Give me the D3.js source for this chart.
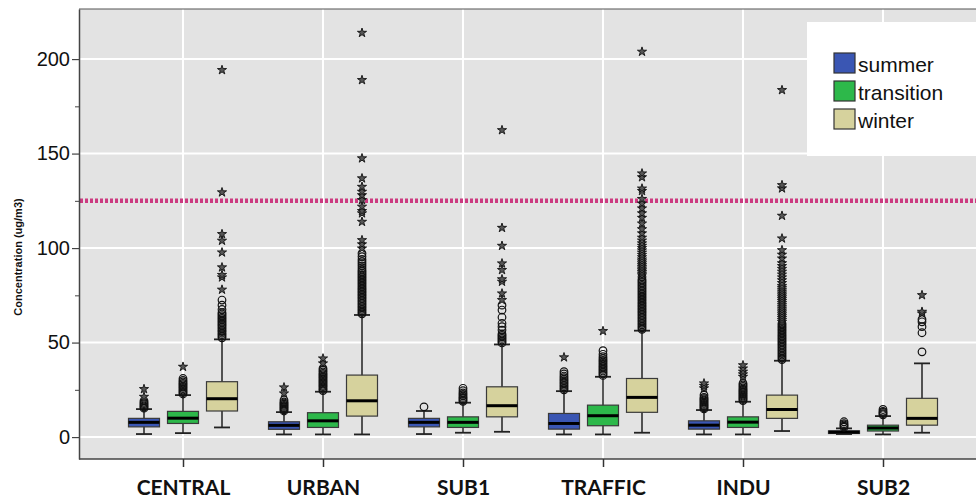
<!DOCTYPE html>
<html>
<head>
<meta charset="utf-8">
<script src="https://cdn.jsdelivr.net/npm/d3@7"></script>
<style>
  html, body { margin: 0; padding: 0; background: #fff; }
  svg { display: block; }
</style>
</head>
<body>
<svg id="chart" width="976" height="501"></svg>
<script>
// Site categories and seasons
const categories = ["CENTRAL", "URBAN", "SUB1", "TRAFFIC", "INDU", "SUB2"];
const seasons = ["summer", "transition", "winter"];
const seasonColors = ["#3a56b3", "#2db84a", "#d6d29d"];

// Box summaries per site: [lower whisker, Q1, median, Q3, upper whisker]
const summerBox = [
  [1.6, 5.4, 7.8, 9.9, 14.8],
  [1.4, 4.1, 6.2, 8.1, 13.2],
  [1.6, 5.4, 7.8, 9.9, 13.8],
  [1.4, 4.2, 7.2, 12.5, 24.3],
  [1.4, 4.2, 6.3, 8.6, 14.3],
  [1.6, 1.9, 2.6, 3.3, 4.6]
];
const transitionBox = [
  [2.1, 7.2, 10.0, 13.6, 22.2],
  [1.4, 5.1, 8.6, 12.9, 24.0],
  [2.3, 5.1, 7.8, 10.7, 18.2],
  [1.4, 6.0, 11.3, 16.9, 31.9],
  [1.4, 5.1, 7.9, 10.7, 18.7],
  [1.4, 3.2, 4.8, 6.3, 11.1]
];
const winterBox = [
  [5.1, 13.8, 20.3, 29.3, 51.7],
  [1.4, 11.1, 19.2, 32.8, 64.6],
  [2.8, 10.7, 16.6, 26.6, 49.0],
  [2.3, 13.1, 21.0, 31.0, 56.3],
  [3.2, 9.9, 14.6, 22.2, 40.4],
  [2.3, 6.3, 9.9, 20.5, 39.0]
];

// Outliers (open circles) per site
const summerOutliers = [
  [15.3, 15.9, 16.5, 17.1, 17.7, 18.4, 19.2],
  [13.8, 14.4, 15.0, 15.6, 16.2, 16.8, 17.4, 18.0, 18.6, 19.6],
  [16.0],
  [25.0, 25.8, 26.6, 27.4, 28.2, 29.0, 29.8, 30.6, 31.4, 32.3, 33.4, 34.6],
  [14.9, 15.5, 16.1, 16.7, 17.3, 17.9, 18.5, 19.1, 19.7, 20.3, 21.0, 22.2],
  [5.2, 5.8, 6.4, 7.1, 8.1]
];
const transitionOutliers = [
  [22.8, 23.5, 24.2, 24.9, 25.6, 26.3, 27.0, 27.7, 28.4, 29.2, 30.0, 31.0],
  [24.6, 25.3, 26.0, 26.7, 27.4, 28.1, 28.8, 29.5, 30.2, 30.9, 31.6, 32.3, 33.0, 33.7, 34.5, 35.4, 36.3],
  [18.9, 19.6, 20.3, 21.0, 21.8, 22.6, 23.4, 24.5, 25.8],
  [32.6, 33.4, 34.2, 35.0, 35.8, 36.6, 37.4, 38.2, 39.0, 39.8, 40.6, 41.5, 42.5, 43.8, 45.7],
  [19.3, 19.9, 20.5, 21.1, 21.7, 22.3, 22.9, 23.5, 24.1, 24.7, 25.3, 26.0, 26.8, 27.6, 28.4],
  [11.8, 12.4, 13.0, 13.6, 14.6]
];
const winterOutliers = [
  [52.5, 53.4, 54.2, 55.0, 55.8, 56.5, 57.3, 58.1, 58.9, 59.6, 60.4, 61.2, 62.0, 62.8, 63.5, 64.3, 65.1, 65.8, 67.5, 69.8, 72.5],
  [65.2, 66.0, 66.8, 67.6, 68.4, 69.2, 70.0, 70.8, 71.6, 72.4, 73.2, 74.0, 74.8, 75.6, 76.4, 77.2, 78.0, 78.8, 79.6,
   80.4, 81.2, 82.0, 82.8, 83.6, 84.4, 85.2, 86.0, 86.8, 87.6, 88.4, 89.5, 90.6, 91.7, 92.8, 94.0, 95.5, 97.2],
  [49.8, 50.6, 51.4, 52.2, 53.0, 53.8, 54.6, 56.6, 58.4, 60.2, 63.4, 67.2, 69.8],
  [57.0, 57.8, 58.6, 59.4, 60.2, 61.0, 61.8, 62.6, 63.4, 64.2, 65.0, 65.8, 66.6, 67.4, 68.2, 69.0, 69.8, 70.6, 71.4,
   72.2, 73.0, 73.8, 74.6, 75.4, 76.2, 77.0, 77.8, 78.6, 79.4, 80.2, 81.0, 81.8, 82.6, 83.4, 84.8],
  [41.0, 41.8, 42.6, 43.4, 44.2, 45.0, 45.8, 46.6, 47.4, 48.2, 49.0, 49.8, 50.6, 51.4, 52.2, 53.0, 53.8, 54.6, 55.4,
   56.2, 57.0, 57.8, 58.6, 59.4, 60.2],
  [45.1, 55.2, 58.4, 61.0, 62.3]
];

// Extreme values (stars) per site
const summerExtremes = [
  [21.3, 25.4],
  [23.1, 26.3],
  [],
  [42.2],
  [25.8, 27.1, 28.4],
  []
];
const transitionExtremes = [
  [37.2],
  [39.0, 41.6],
  [],
  [56.1],
  [31.9, 33.2, 34.6, 36.3, 38.0],
  []
];
const winterExtremes = [
  [78.0, 84.5, 85.8, 89.8, 97.7, 103.9, 107.4, 129.5, 194.2],
  [99.8, 102.0, 104.2, 113.9, 118.4, 119.6, 121.9, 125.4, 128.0, 129.8, 132.4, 136.9, 147.5, 188.9, 213.9],
  [72.5, 76.0, 82.2, 83.5, 88.4, 91.9, 101.2, 110.7, 162.4],
  [85.6, 86.5, 87.4, 88.3, 89.2, 90.1, 91.0, 92.0, 93.0, 94.0, 95.2, 96.4, 97.6, 98.8, 100.0, 101.2, 102.5, 104.0,
   105.5, 107.8, 110.0, 113.0, 116.0, 118.4, 121.0, 123.6, 126.0, 130.2, 131.5, 137.5, 139.5, 203.9],
  [61.0, 62.0, 63.0, 64.0, 65.0, 66.0, 67.0, 68.0, 69.0, 70.0, 71.0, 72.0, 73.0, 74.0, 75.0, 76.0, 77.0, 78.0, 79.0,
   80.0, 81.5, 83.0, 84.5, 86.0, 87.5, 89.0, 90.5, 92.0, 94.5, 96.5, 98.9, 105.1, 117.1, 131.6, 133.3, 183.6],
  [65.4, 66.3, 75.1]
];

// Axis ticks and the limit line
const yTicks = [0, 50, 100, 150, 200];
const yMinorTicks = [25, 75, 125, 175];
const limitValue = [125];
const yTitle = "Concentration (ug/m3)";

const boxes = [summerBox, transitionBox, winterBox];
const outliers = [summerOutliers, transitionOutliers, winterOutliers];
const extremes = [summerExtremes, transitionExtremes, winterExtremes];

const width = 976, height = 501;
const frame = { left: 79, top: 9, bottom: 459, right: 976 };

const svg = d3.select("#chart");

const y = d3.scaleLinear().domain([-11.6, 226.5]).range([frame.bottom, frame.top]);
const x = d3.scalePoint().domain(categories).range([183, 883]);
const xs = d3.scalePoint().domain(seasons).range([-39, 39]);
const boxW = 31, capW = 16;

// plot background
svg.append("rect")
  .attr("x", frame.left).attr("y", frame.top)
  .attr("width", frame.right - frame.left).attr("height", frame.bottom - frame.top)
  .attr("fill", "#e3e3e3");

// grid
const grid = svg.append("g");
grid.selectAll("line.h").data(yTicks).join("line")
  .attr("x1", frame.left).attr("x2", frame.right)
  .attr("y1", d => y(d)).attr("y2", d => y(d))
  .attr("stroke", "#fff").attr("stroke-width", 2);
grid.selectAll("line.v").data(categories).join("line")
  .attr("x1", d => x(d)).attr("x2", d => x(d))
  .attr("y1", frame.top).attr("y2", frame.bottom)
  .attr("stroke", "#fff").attr("stroke-width", 2);

// limit line
svg.selectAll("line.limit").data(limitValue).join("line")
  .attr("x1", frame.left + 1).attr("x2", frame.right)
  .attr("y1", d => y(d)).attr("y2", d => y(d))
  .attr("stroke", "#cc3a80").attr("stroke-width", 4.5)
  .attr("stroke-dasharray", "3,2");

// boxes
const starPath = d3.symbol(d3.symbolStar, 26)();
seasons.forEach((s, si) => {
  const g = svg.append("g").attr("class", "season-" + s);
  categories.forEach((c, ci) => {
    const [lo, q1, med, q3, hi] = boxes[si][ci];
    const cx = x(c) + xs(s);
    const cg = g.append("g");
    // whisker stem
    cg.append("line").attr("x1", cx).attr("x2", cx).attr("y1", y(lo)).attr("y2", y(hi))
      .attr("stroke", "#222").attr("stroke-width", 1.5);
    // caps
    [lo, hi].forEach(v => {
      cg.append("line").attr("x1", cx - capW / 2).attr("x2", cx + capW / 2)
        .attr("y1", y(v)).attr("y2", y(v))
        .attr("stroke", "#222").attr("stroke-width", 1.8);
    });
    // box body
    cg.append("rect")
      .attr("x", cx - boxW / 2).attr("y", y(q3))
      .attr("width", boxW).attr("height", Math.max(1, y(q1) - y(q3)))
      .attr("fill", seasonColors[si]).attr("stroke", "#3a3a3a").attr("stroke-width", 1.2);
    // median
    cg.append("line").attr("x1", cx - boxW / 2).attr("x2", cx + boxW / 2)
      .attr("y1", y(med)).attr("y2", y(med))
      .attr("stroke", "#000").attr("stroke-width", 3);
    // outliers
    cg.selectAll("circle").data(outliers[si][ci]).join("circle")
      .attr("cx", cx).attr("cy", d => y(d)).attr("r", 3.8)
      .attr("fill", "none").attr("stroke", "#111").attr("stroke-width", 1.2);
    // extremes
    cg.selectAll("path.star").data(extremes[si][ci]).join("path")
      .attr("class", "star")
      .attr("d", starPath)
      .attr("transform", d => `translate(${cx},${y(d)})`)
      .attr("fill", "#555").attr("stroke", "#111").attr("stroke-width", 0.9);
  });
});

// frame lines
svg.append("line").attr("x1", frame.left).attr("x2", frame.right)
  .attr("y1", frame.top).attr("y2", frame.top)
  .attr("stroke", "#555").attr("stroke-width", 1.2);
svg.append("line").attr("x1", frame.left).attr("x2", frame.right)
  .attr("y1", frame.bottom).attr("y2", frame.bottom)
  .attr("stroke", "#444").attr("stroke-width", 1.5);

// y axis
const yAxis = svg.append("g").attr("transform", `translate(${frame.left},0)`)
  .call(d3.axisLeft(y).tickValues(yTicks).tickSize(7).tickSizeOuter(0).tickPadding(2));
yAxis.select(".domain").attr("stroke", "#444").attr("stroke-width", 1.5);
yAxis.selectAll(".tick line").attr("stroke", "#444").attr("stroke-width", 1.2);
yAxis.selectAll(".tick text")
  .attr("font-family", "'Liberation Sans', Arial, sans-serif")
  .attr("font-size", 20).attr("fill", "#111");
const yMinor = svg.append("g").attr("transform", `translate(${frame.left},0)`)
  .call(d3.axisLeft(y).tickValues(yMinorTicks).tickSize(4).tickFormat(""));
yMinor.select(".domain").remove();
yMinor.selectAll(".tick line").attr("stroke", "#444").attr("stroke-width", 1);

// x axis
const xAxis = svg.append("g").attr("transform", `translate(0,${frame.bottom})`)
  .call(d3.axisBottom(x).tickSize(8).tickSizeOuter(0).tickPadding(13));
xAxis.select(".domain").remove();
xAxis.selectAll(".tick line").attr("stroke", "#333").attr("stroke-width", 1.5);
xAxis.selectAll(".tick text")
  .attr("font-family", "Lato, 'Open Sans', sans-serif")
  .attr("font-weight", 700).attr("font-size", 21).attr("fill", "#111");

// y title
svg.append("text")
  .attr("transform", "translate(22,257) rotate(-90)")
  .attr("text-anchor", "middle")
  .attr("font-family", "'Liberation Sans', Arial, sans-serif")
  .attr("font-weight", 700).attr("font-size", 11).attr("fill", "#111")
  .text(yTitle);

// legend
const legend = svg.append("g");
legend.append("rect").attr("x", 807).attr("y", 22).attr("width", 170).attr("height", 134).attr("fill", "#fff");
const li = legend.selectAll("g.item").data(seasons).join("g")
  .attr("transform", (d, i) => `translate(834,${53 + i * 28})`);
li.append("rect").attr("width", 21).attr("height", 20)
  .attr("fill", (d, i) => seasonColors[i]).attr("stroke", "#333").attr("stroke-width", 1.2);
li.append("text").attr("x", 24).attr("y", 19)
  .attr("font-family", "'Liberation Sans', Arial, sans-serif")
  .attr("font-size", 21).attr("fill", "#111")
  .text(d => d);
</script>
</body>
</html>
